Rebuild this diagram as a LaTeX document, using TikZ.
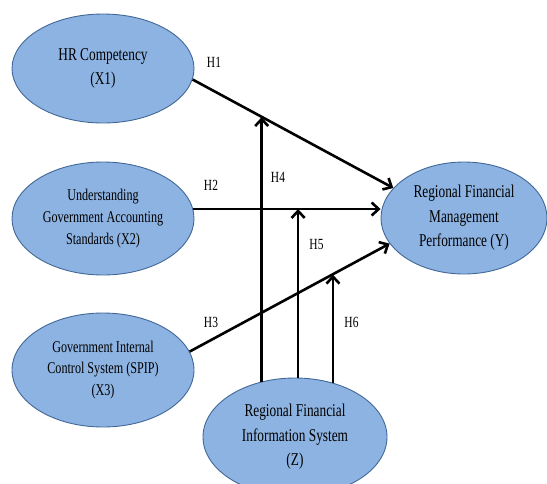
\documentclass[tikz,border=0pt]{standalone}
\usepackage{fontspec}
\setmainfont{Liberation Serif}[FakeStretch=0.74]
\usetikzlibrary{shapes.geometric}
\usetikzlibrary{arrows.meta}
\definecolor{varfill}{RGB}{141,179,226}
\definecolor{varline}{RGB}{66,104,152}

\begin{document}
\begin{tikzpicture}
[x=1pt, y=-1pt,
var/.style ={ellipse, draw=varline, fill=varfill, line width=0.9pt,
inner sep=0pt, align=center, minimum width=182pt, minimum height=109pt,
font=\fontsize{18}{24.5}\selectfont},
varsm/.style ={var, font=\fontsize{16.4}{21.7}\selectfont},
hyp/.style ={font=\fontsize{15.5}{17}\selectfont},
line/.style ={draw, line width=2.6pt, -{Straight Barb[length=7pt,width=13pt]}}]
\useasboundingbox (0,0) rectangle (547,483);
% left column
\node [var] (hrc) at (103,68.5) {HR Competency\\(X1)};
\node [varsm, minimum height=113pt] (gas) at (103,218.5) {Understanding\\Government Accounting\\Standards (X2)};
\node [varsm, minimum height=114pt] (spip) at (103,370) {Government Internal\\Control System (SPIP)\\(X3)};
% right and bottom
\node [var, minimum width=166pt, minimum height=112pt] (rfmp) at (464,218) {Regional Financial\\Management\\Performance (Y)};
\node [var, minimum width=184pt, minimum height=118pt] (rfis) at (295,437) {Regional Financial\\Information System\\(Z)};
\draw [line] (hrc.-7) -- coordinate[pos=0.347] (h4) (rfmp.157);
\draw [line] (gas.6) -- (gas.6 -| rfmp.west);
\draw [line] (spip.12) -- coordinate[pos=0.712] (h6) (rfmp.199);
\draw [line] (rfis.121) -- (rfis.121 |- h4);
\draw [line] (rfis.87) -- (rfis.87 |- gas.6);
\draw [line] (rfis.55) -- (rfis.55 |- h6);
% hypotheses
\node [hyp] (l1) at (214,62.5) {H1};
\node [hyp] (l2) at (211,185) {H2};
\node [hyp] (l3) at (211,322) {H3};
\node [hyp] (l4) at (278,177) {H4};
\node [hyp] (l5) at (316.5,244) {H5};
\node [hyp] (l6) at (351.5,322) {H6};
\end{tikzpicture}
\end{document}
